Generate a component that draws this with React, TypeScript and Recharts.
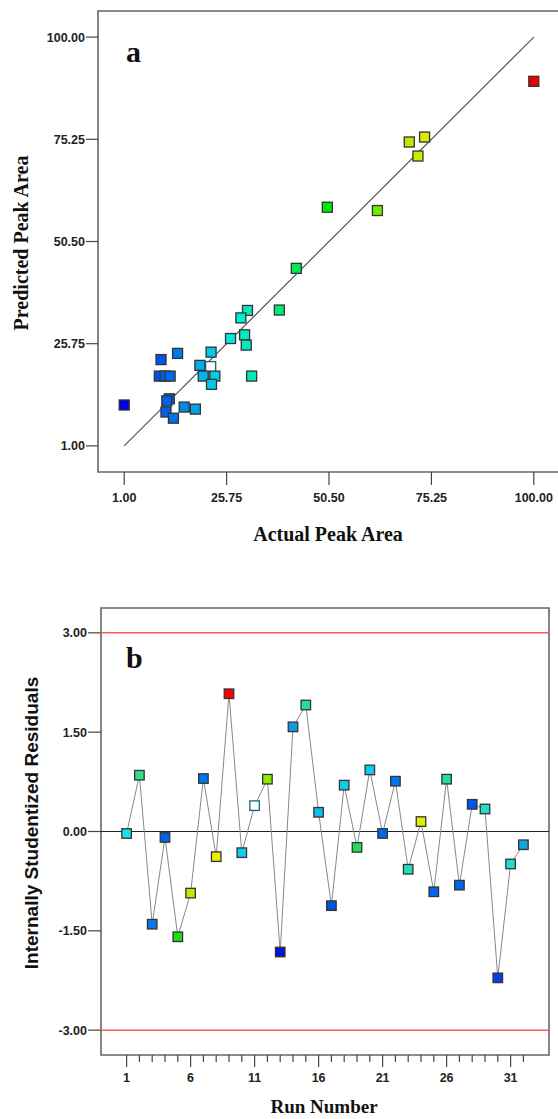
import React from 'react'
import { ScatterChart, Scatter, XAxis, YAxis, ReferenceLine, ReferenceArea, Cell } from "recharts";

// panel a: actual vs predicted peak area
const actualArea = [
    100, 69.9, 73.6, 72.0, 50.1, 62.2, 42.6,
    30.8, 29.2, 38.5, 26.7, 30.1, 30.5, 31.8,
    22.0, 19.3, 21.9, 20.1, 22.9, 22.1,
    13.9, 9.9, 9.5, 10.9, 12.1,
    1.0, 11.9, 11.3, 11.1, 12.9, 15.5, 18.2,
];
const predictedArea = [
    89.3, 74.6, 75.8, 71.2, 58.8, 58.0, 44.0,
    33.8, 32.0, 33.9, 27.0, 27.9, 25.4, 17.9,
    23.7, 20.5, 20.2, 17.9, 17.9, 15.9,
    23.4, 21.9, 17.9, 17.9, 17.9,
    10.9, 12.4, 11.9, 9.2, 7.7, 10.4, 9.9,
];
const areaTicks = [1, 25.75, 50.5, 75.25, 100];
const hollowPoint = 16;

// panel b: residuals vs run
const runNumbers = [1, 2, 3, 4, 5, 6, 7, 8, 9, 10, 11, 12, 13, 14, 15, 16, 17, 18, 19, 20, 21, 22, 23, 24, 25, 26, 27, 28, 29, 30, 31, 32];
const residuals = [
    -0.03, 0.85, -1.40, -0.09, -1.59, -0.93, 0.80, -0.38, 2.08, -0.32, 0.39,
    0.79, -1.82, 1.58, 1.91, 0.29, -1.12, 0.70, -0.24, 0.93, -0.03, 0.76,
    -0.57, 0.15, -0.91, 0.79, -0.81, 0.41, 0.34, -2.21, -0.49, -0.20,
];
const residualTicks = [-3, -1.5, 0, 1.5, 3];
const hollowRun = 11;

const runColors = [
    '#22DDDD', '#33DD88', '#1177EE', '#0066EE', '#22DD11', '#BBEE00', '#0077EE', '#EEEE00',
    '#FF0000', '#11CCEE', '#FFFFFF', '#88EE00', '#0011DD', '#1199EE', '#22DDAA', '#11BBEE',
    '#0055DD', '#11CCEE', '#22DD55', '#11CCEE', '#0066EE', '#0077EE', '#22DDBB', '#DDEE00',
    '#0066EE', '#22DDAA', '#0066EE', '#0055EE', '#22DDCC', '#0044DD', '#22DDCC', '#11AADD',
];

const areaData = actualArea.map((a, i) => ({ actual: a, predicted: predictedArea[i] }));
const residualData = runNumbers.map((r, i) => ({ run: r, residual: residuals[i] }));

const tickFont = { fontFamily: '"Liberation Sans", Arial, sans-serif', fontWeight: 700, fontSize: 12.5, fill: '#222' };
const titleFont = { fontFamily: '"Liberation Serif", "Times New Roman", serif', fontWeight: 700, fontSize: 20, fill: '#111' };

// blue -> red colour scale on actual value
function rainbow(v: number) {
    const t = (v - 1) / 99;
    return `hsl(${240 * (1 - t)}, 100%, 46%)`;
}

const Square = (size: number) => (props: any) => {
    const { cx, cy, fill, stroke } = props;
    return <rect x={cx - size / 2} y={cy - size / 2} width={size} height={size} fill={fill} stroke={stroke || '#333'} strokeWidth={1.3} />;
};

const RunTick = (props: any) => {
    const { x, y, payload } = props;
    const major = (payload.value - 1) % 5 === 0;
    return (
        <g>
            <line x1={x} x2={x} y1={y} y2={y + (major ? 12 : 7)} stroke="#444" strokeWidth={1.2} />
            {major && <text x={x} y={y + 27} textAnchor="middle" style={tickFont}>{payload.value}</text>}
        </g>
    );
};

function App() {
    return (
        <div style={{ position: 'absolute', left: 0, top: 0, width: 558, height: 1119, overflow: 'hidden', background: '#fff' }}>
            <div style={{ position: 'absolute', left: 0, top: 0 }}>
                <ScatterChart width={600} height={560} margin={{ top: 11, right: 40, left: 0, bottom: 0 }}>
                    <XAxis type="number" dataKey="actual" domain={[-5.33, 106.33]} ticks={areaTicks} interval={0}
                        tickFormatter={(v: number) => v.toFixed(2)} height={88} tickSize={13} tickMargin={8}
                        axisLine={false} tickLine={{ stroke: '#444', strokeWidth: 1.2 }} tick={tickFont} />
                    <YAxis type="number" dataKey="predicted" domain={[-5.33, 106.33]} ticks={areaTicks} interval={0}
                        tickFormatter={(v: number) => v.toFixed(2)} width={98} tickSize={12} tickMargin={1}
                        axisLine={false} tickLine={{ stroke: '#444', strokeWidth: 1.2 }} tick={tickFont} />
                    <ReferenceArea x1={-5.33} x2={106.33} y1={-5.33} y2={106.33} fill="none" stroke="#666" strokeWidth={1.6} />
                    <ReferenceLine segment={[{ x: 1, y: 1 }, { x: 100, y: 100 }]} stroke="#555" strokeWidth={1.2} />
                    <Scatter data={areaData} isAnimationActive={false} shape={Square(10)}>
                        {areaData.map((d, i) => (
                            <Cell key={i} fill={i === hollowPoint ? '#FFFFFF' : rainbow(d.actual)} stroke={i === hollowPoint ? '#116677' : '#333'} />
                        ))}
                    </Scatter>
                    <text x={126} y={62} style={{ ...titleFont, fontSize: 30 }}>a</text>
                    <text x={328} y={541} textAnchor="middle" style={titleFont}>Actual Peak Area</text>
                    <text x={28} y={243} textAnchor="middle" transform="rotate(-90 28 243)" style={titleFont}>Predicted Peak Area</text>
                </ScatterChart>
            </div>
            <div style={{ position: 'absolute', left: 0, top: 560 }}>
                <ScatterChart width={558} height={559} margin={{ top: 48, right: 9, left: 0, bottom: 0 }}>
                    <XAxis type="number" dataKey="run" domain={[-1, 34]} ticks={runNumbers} interval={0}
                        height={64} tickSize={0} tickMargin={0} axisLine={false} tickLine={false} tick={<RunTick />} />
                    <YAxis type="number" dataKey="residual" domain={[-3.375, 3.375]} ticks={residualTicks} interval={0}
                        tickFormatter={(v: number) => v.toFixed(2)} width={101} tickSize={13} tickMargin={1}
                        axisLine={false} tickLine={{ stroke: '#444', strokeWidth: 1.2 }} tick={tickFont} />
                    <ReferenceArea x1={-1} x2={34} y1={-3.375} y2={3.375} fill="none" stroke="#666" strokeWidth={1.6} />
                    <ReferenceLine y={3} stroke="#FF5A5A" strokeWidth={1.5} />
                    <ReferenceLine y={-3} stroke="#FF5A5A" strokeWidth={1.5} />
                    <ReferenceLine y={0} stroke="#222" strokeWidth={1.2} />
                    <Scatter data={residualData} isAnimationActive={false} line={{ stroke: '#888', strokeWidth: 1 }} shape={Square(9.5)}>
                        {residualData.map((d, i) => (
                            <Cell key={i} fill={runColors[i]} stroke={d.run === hollowRun ? '#116677' : '#333'} />
                        ))}
                    </Scatter>
                    <text x={126} y={108} style={{ ...titleFont, fontSize: 30 }}>b</text>
                    <text x={324} y={553} textAnchor="middle" style={{ ...titleFont, fontSize: 19 }}>Run Number</text>
                    <text x={38} y={263} textAnchor="middle" transform="rotate(-90 38 263)"
                        style={{ ...titleFont, fontFamily: '"Liberation Sans", Arial, sans-serif', fontSize: 19 }}>Internally Studentized Residuals</text>
                </ScatterChart>
            </div>
        </div>
    )
}

export default App
